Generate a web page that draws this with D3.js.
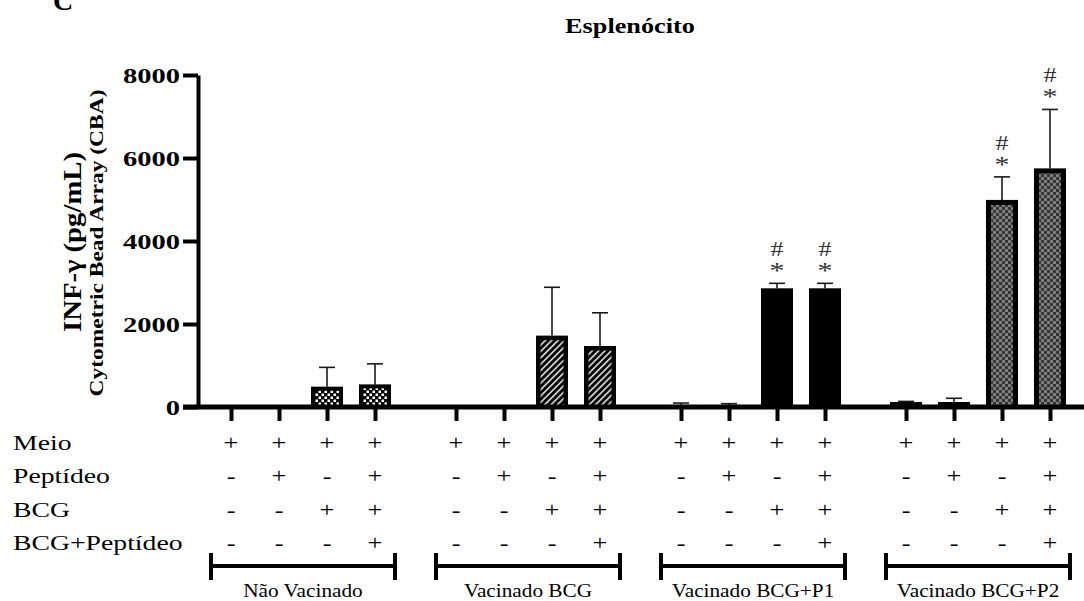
<!DOCTYPE html>
<html><head><meta charset="utf-8">
<script src="https://cdn.jsdelivr.net/npm/d3@7"></script>
<style>body{margin:0;background:#fff} svg{display:block}</style>
</head><body><svg id="c" width="1084" height="601"></svg>
<script>
// ---- data ----
const groups = ["Não Vacinado", "Vacinado BCG", "Vacinado BCG+P1", "Vacinado BCG+P2"];
const conditions = ["c1", "c2", "c3", "c4"];
const meanNV  = [0, 0, 490, 545];
const sdNV    = [0, 0, 465, 495];
const meanBCG = [0, 0, 1720, 1470];
const sdBCG   = [0, 0, 1165, 800];
const meanP1  = [50, 40, 2860, 2860];
const sdP1    = [45, 40, 120, 120];
const meanP2  = [120, 120, 4990, 5750];
const sdP2    = [15, 90, 555, 1420];
const sigNV  = ["", "", "", ""];
const sigBCG = ["", "", "", ""];
const sigP1  = ["", "", "#*", "#*"];
const sigP2  = ["", "", "#*", "#*"];
const rowLabels = ["Meio", "Peptídeo", "BCG", "BCG+Peptídeo"];
const rowSigns = [["+","+","+","+"], ["-","+","-","+"], ["-","-","+","+"], ["-","-","-","+"]];
const yTicks = [0, 2000, 4000, 6000, 8000];
const title = "Esplenócito";
const yTitle1 = "INF-γ (pg/mL)";
const yTitle2 = "Cytometric Bead Array (CBA)";
const panelLetter = "C";

const means = [meanNV, meanBCG, meanP1, meanP2];
const sds = [sdNV, sdBCG, sdP1, sdP2];
const sigs = [sigNV, sigBCG, sigP1, sigP2];

const FONT = "'Liberation Serif','Times New Roman',serif";
const svg = d3.select("#c");

// ---- patterns ----
const defs = svg.append("defs");
const pW = defs.append("pattern").attr("id","checkW").attr("patternUnits","userSpaceOnUse").attr("width",6).attr("height",6);
pW.append("rect").attr("width",6).attr("height",6).attr("fill","#000");
pW.append("rect").attr("x",0.5).attr("y",0.5).attr("width",2.5).attr("height",2.5).attr("fill","#fff");
pW.append("rect").attr("x",3.5).attr("y",3.5).attr("width",2.5).attr("height",2.5).attr("fill","#fff");
const pH = defs.append("pattern").attr("id","hatch").attr("patternUnits","userSpaceOnUse").attr("width",4.5).attr("height",4.5).attr("patternTransform","rotate(45)");
pH.append("rect").attr("width",4.5).attr("height",4.5).attr("fill","#000");
pH.append("rect").attr("x",0).attr("width",1.6).attr("height",4.5).attr("fill","#e0e0e0");
const pG = defs.append("pattern").attr("id","checkG").attr("patternUnits","userSpaceOnUse").attr("width",6).attr("height",6);
pG.append("rect").attr("width",6).attr("height",6).attr("fill","#363636");
pG.append("rect").attr("x",0).attr("y",0).attr("width",3).attr("height",3).attr("fill","#7e7e7e");
pG.append("rect").attr("x",3).attr("y",3).attr("width",3).attr("height",3).attr("fill","#7e7e7e");

const styles = [
  {fill:"url(#checkW)", border:4},
  {fill:"url(#hatch)", border:4.5},
  {fill:null, border:0},
  {fill:"url(#checkG)", border:5}
];

// ---- scales ----
const y = d3.scaleLinear().domain([0, 8000]).range([407, 75]);
const xOuter = d3.scaleBand().domain(groups).range([207, 1074]).paddingInner(0.14667).paddingOuter(0);
const xInner = d3.scaleBand().domain(conditions).range([0, xOuter.bandwidth()]).paddingInner(1/3).paddingOuter(1/6);

const bars = [];
groups.forEach((g, gi) => conditions.forEach((c, ci) => {
  bars.push({key: g + "|" + c, group: g, gi, cond: c, ci, mean: means[gi][ci], sd: sds[gi][ci], sig: sigs[gi][ci]});
}));
const xPos = d3.scaleOrdinal().domain(bars.map(d => d.key))
  .range(bars.map(d => xOuter(d.group) + xInner(d.cond) + xInner.bandwidth() / 2));
const bw = xInner.bandwidth();

function stretch(sel, x, yy, sx) { sel.attr("transform", `translate(${x},${yy}) scale(${sx},1)`); }

// ---- error bars ----
const eb = svg.append("g").attr("stroke", "#1a1a1a").attr("stroke-width", 1.6);
bars.filter(d => d.sd > 0).forEach(d => {
  const cx = xPos(d.key);
  eb.append("line").attr("x1", cx).attr("x2", cx).attr("y1", y(d.mean)).attr("y2", y(d.mean + d.sd));
  eb.append("line").attr("x1", cx - 8).attr("x2", cx + 8).attr("y1", y(d.mean + d.sd)).attr("y2", y(d.mean + d.sd));
});

// ---- bars ----
const bg = svg.append("g");
bars.filter(d => d.mean > 0).forEach(d => {
  const st = styles[d.gi];
  const x0 = xPos(d.key) - bw / 2, y0 = y(d.mean), h = y(0) - y(d.mean);
  bg.append("rect").attr("x", x0).attr("y", y0).attr("width", bw).attr("height", h).attr("fill", "#000");
  if (st.fill && h > st.border * 2) {
    bg.append("rect").attr("x", x0 + st.border).attr("y", y0 + st.border)
      .attr("width", bw - 2 * st.border).attr("height", h - st.border).attr("fill", st.fill);
  }
});

// ---- significance marks (one text: "#" above "*") ----
const sg = svg.append("g").attr("font-family", FONT).attr("fill", "#333").attr("text-anchor", "middle");
bars.filter(d => d.sig).forEach(d => {
  const top = y(d.mean + d.sd);
  const t = sg.append("text").attr("font-size", 20);
  stretch(t, xPos(d.key), top - 27, 1.3);
  t.append("tspan").attr("x", 0).text("#");
  t.append("tspan").attr("x", 0).attr("dy", 22).attr("font-size", 23).text("*");
});

// ---- axes ----
const yAxis = d3.axisLeft(y).tickValues(yTicks).tickSize(15).tickSizeOuter(0).tickFormat(d3.format("d"));
const ga = svg.append("g").attr("transform", "translate(198,0)").call(yAxis);
ga.select(".domain").attr("stroke-width", 4).attr("stroke", "#000");
ga.selectAll(".tick line").attr("stroke-width", 4).attr("stroke", "#000");
ga.selectAll(".tick text").attr("x", null).attr("dy", null).attr("fill", "#000")
  .attr("font-family", FONT).attr("font-size", 21).attr("font-weight", "bold")
  .attr("text-anchor", "end").attr("transform", "translate(-18,7) scale(1.36,1)");

svg.append("line").attr("x1", 183).attr("x2", 1084).attr("y1", y(0)).attr("y2", y(0))
  .attr("stroke", "#000").attr("stroke-width", 5);
const xAxis = d3.axisBottom(xPos).tickSize(14).tickSizeOuter(0).tickFormat("");
const gx = svg.append("g").attr("transform", `translate(0,${y(0)})`).call(xAxis);
gx.select(".domain").remove();
gx.selectAll(".tick line").attr("stroke-width", 4).attr("stroke", "#000");

// ---- titles ----
const tt = svg.append("text").text(title).attr("font-family", FONT).attr("font-weight", "bold")
  .attr("font-size", 21).attr("text-anchor", "middle");
stretch(tt, 630, 33, 1.25);
svg.append("text").text(panelLetter).attr("x", 53).attr("y", 10).attr("font-family", FONT)
  .attr("font-weight", "bold").attr("font-size", 28);
svg.append("text").text(yTitle1).attr("font-family", FONT).attr("font-weight", "bold").attr("font-size", 26)
  .attr("text-anchor", "middle").attr("textLength", 180).attr("lengthAdjust", "spacingAndGlyphs")
  .attr("transform", "translate(81,242) rotate(-90)");
svg.append("text").text(yTitle2).attr("font-family", FONT).attr("font-weight", "bold").attr("font-size", 18)
  .attr("text-anchor", "middle").attr("textLength", 307).attr("lengthAdjust", "spacingAndGlyphs")
  .attr("transform", "translate(103,243) rotate(-90)");

// ---- condition table ----
const rowY = d3.scalePoint().domain(rowLabels).range([450, 550]);
const tg = svg.append("g").attr("font-family", FONT).attr("font-size", 21).attr("fill", "#000");
rowLabels.forEach((lab, ri) => {
  stretch(tg.append("text").text(lab), 13, rowY(lab), 1.32);
  bars.forEach(d => {
    stretch(tg.append("text").attr("text-anchor", "middle").text(rowSigns[ri][d.ci]), xPos(d.key), rowY(lab), 1.25);
  });
});

// ---- group brackets ----
const gb = svg.append("g");
groups.forEach(g => {
  const c = xOuter(g) + xOuter.bandwidth() / 2;
  gb.append("line").attr("x1", c - 92).attr("x2", c + 92).attr("y1", 566).attr("y2", 566).attr("stroke", "#000").attr("stroke-width", 4);
  [c - 92, c + 92].forEach(xx => gb.append("line").attr("x1", xx).attr("x2", xx).attr("y1", 553).attr("y2", 580)
    .attr("stroke", "#000").attr("stroke-width", 4));
  stretch(gb.append("text").text(g).attr("font-family", FONT).attr("font-size", 19).attr("text-anchor", "middle"), c, 597, 1.12);
});
</script>
</body></html>
